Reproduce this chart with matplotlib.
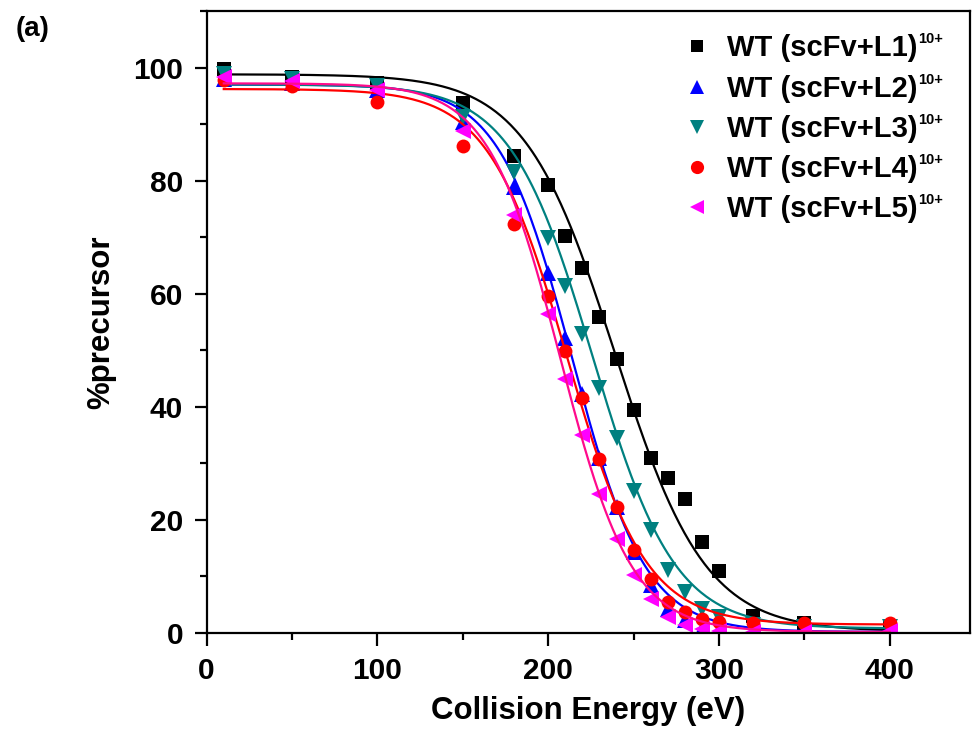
import numpy as np
import matplotlib
matplotlib.use("Agg")
import matplotlib.pyplot as plt
from matplotlib.ticker import MultipleLocator

plt.rcParams['font.family'] = ['Liberation Sans', 'DejaVu Sans']
plt.rcParams['font.weight'] = 'bold'

energy = [10, 50, 100, 150, 180, 200, 210, 220, 230, 240, 250, 260, 270, 280, 290, 300, 320, 350, 400]

L1 = [99.7, 98.3, 97.2, 93.8, 84.4, 79.3, 70.2, 64.5, 55.8, 48.5, 39.4, 31.0, 27.5, 23.7, 16.1, 10.9, 3.1, 1.8, 1.3]
L2 = [98.0, 97.3, 96.0, 90.3, 78.8, 63.7, 52.2, 42.2, 30.9, 22.3, 14.4, 8.5, 4.3, 2.3, 0.8, 0.5, 0.3, 0.2, 0.2]
L3 = [98.8, 98.0, 96.8, 91.2, 81.6, 69.9, 61.3, 52.8, 43.4, 34.5, 25.2, 18.3, 11.2, 7.3, 4.3, 2.8, 1.4, 1.1, 1.1]
L4 = [97.8, 96.8, 93.9, 86.2, 72.3, 59.6, 49.8, 41.5, 30.7, 22.3, 14.7, 9.6, 5.5, 3.7, 2.5, 1.9, 1.7, 1.7, 1.7]
L5 = [98.4, 97.7, 96.0, 88.8, 73.9, 56.4, 44.9, 35.1, 24.5, 16.7, 10.3, 6.1, 2.8, 1.4, 0.8, 0.4, 0.2, 0.2, 0.3]

# Boltzmann fit parameters: A1 (top), A2 (bottom), x0, dx
fit_L1 = [98.8, 0.3, 239, 26.5]
fit_L2 = [97.0, 0.2, 214, 21.5]
fit_L3 = [97.0, 0.8, 226, 24.0]
fit_L4 = [96.2, 1.5, 211, 23.0]
fit_L5 = [97.2, 0.2, 207, 21.0]

labels = ['WT (scFv+L1)', 'WT (scFv+L2)', 'WT (scFv+L3)', 'WT (scFv+L4)', 'WT (scFv+L5)']
charge = '10+'
series = [L1, L2, L3, L4, L5]
fits = [fit_L1, fit_L2, fit_L3, fit_L4, fit_L5]
marker_colors = ['#000000', '#0000ff', '#008080', '#ff0000', '#ff00ff']
line_colors = ['#000000', '#0000ff', '#008080', '#ff0000', '#ff0a8c']
markers = ['s', '^', 'v', 'o', '<']
msizes = [9.5, 11, 11, 10, 11]


def boltzmann(x, p):
    a1, a2, x0, dx = p
    return a2 + (a1 - a2) / (1.0 + np.exp((x - x0) / dx))


fig = plt.figure(figsize=(9.74, 7.36), dpi=100)
ax = fig.add_axes([0.2122, 0.1399, 0.7837, 0.8452])

xs = np.linspace(10, 400, 400)
handles = []
for y, p, mc, lc, m, ms, lab in zip(series, fits, marker_colors, line_colors, markers, msizes, labels):
    h, = ax.plot(energy, y, linestyle='none', marker=m, markersize=ms, color=mc,
                 markeredgewidth=0, label=lab)
    ax.plot(xs, boltzmann(xs, p), color=lc, linewidth=1.6)
    handles.append(h)

ax.set_xlim(0, 447)
ax.set_ylim(0, 110)
ax.xaxis.set_major_locator(MultipleLocator(100))
ax.xaxis.set_minor_locator(MultipleLocator(50))
ax.yaxis.set_major_locator(MultipleLocator(20))
ax.yaxis.set_minor_locator(MultipleLocator(10))
ax.set_yticks([0, 20, 40, 60, 80, 100])
ax.tick_params(which='major', direction='out', length=9, width=1.6, labelsize=21.5, pad=8)
ax.tick_params(which='minor', direction='out', length=5, width=1.6)
ax.tick_params(top=False, right=False, which='both')
for s in ax.spines.values():
    s.set_linewidth(1.6)
for lbl in ax.get_xticklabels() + ax.get_yticklabels():
    lbl.set_fontweight('bold')

ax.set_xlabel('Collision Energy (eV)', fontsize=22.5, fontweight='bold', labelpad=8)
ax.set_ylabel('%precursor', fontsize=22.5, fontweight='bold', labelpad=12)

leg = ax.legend(handles, labels, loc='upper left', bbox_to_anchor=(0.597, 0.995),
                frameon=False, prop={'size': 21, 'weight': 'bold'},
                handletextpad=0.5, labelspacing=0.42, handlelength=1.0,
                markerscale=0.95, borderaxespad=0.3)

fig.text(0.033, 0.96, '(a)', fontsize=20, fontweight='bold', ha='center', va='center')

# superscript charge state after each legend label
fig.canvas.draw()
renderer = fig.canvas.get_renderer()
inv = fig.transFigure.inverted()
for t in leg.get_texts():
    bb = t.get_window_extent(renderer)
    x1, y1 = inv.transform((bb.x1 + 1, bb.y1 + 2))
    fig.text(x1, y1, charge, fontsize=10.5, fontweight='bold', ha='left', va='top')

fig.savefig('out.png', dpi=100)
